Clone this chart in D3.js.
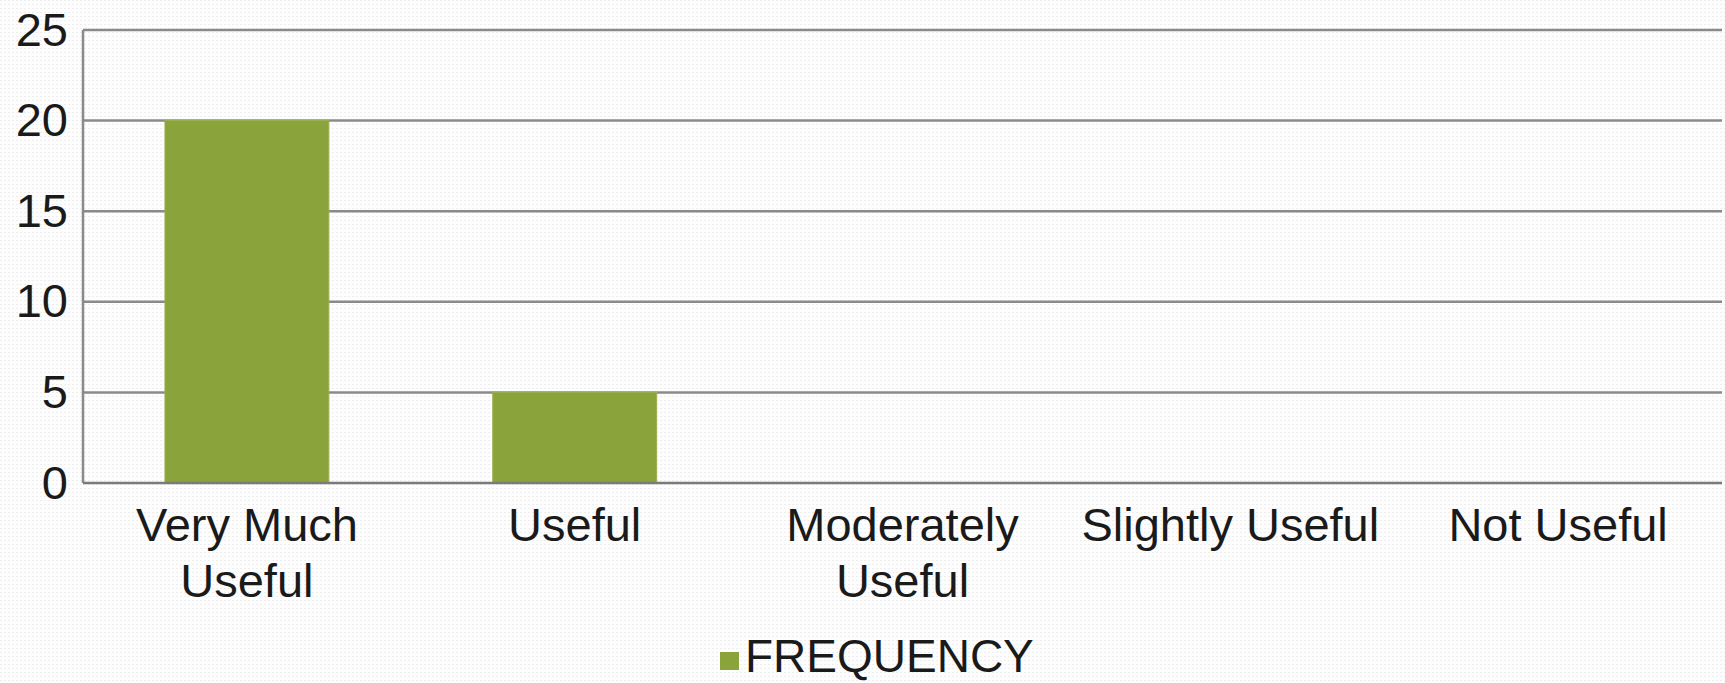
<!DOCTYPE html>
<html>
<head>
<meta charset="utf-8">
<script src="https://cdn.jsdelivr.net/npm/d3@7"></script>
<style>
  body { margin: 0; background: #fff; }
  text { font-family: "Liberation Sans", Arial, sans-serif; fill: #1a1a1a; }
</style>
</head>
<body>
<div class="chart"></div>
<script>
var categories = [["Very Much", "Useful"], ["Useful"], ["Moderately", "Useful"], ["Slightly Useful"], ["Not Useful"]];
var frequency = [20, 5, 0, 0, 0];
var yTicks = [0, 5, 10, 15, 20, 25];
var seriesName = "FREQUENCY";

var svgWidth = 1725;
var svgHeight = 683;

var margin = { top: 30, right: 3, bottom: 200, left: 83 };
var width = svgWidth - margin.left - margin.right;
var height = svgHeight - margin.top - margin.bottom;

var svg = d3.select(".chart")
    .append("svg")
    .attr("width", svgWidth)
    .attr("height", svgHeight);

// faint dotted backdrop
var defs = svg.append("defs");
var pat = defs.append("pattern")
    .attr("id", "dots")
    .attr("width", 4)
    .attr("height", 4)
    .attr("patternUnits", "userSpaceOnUse");
pat.append("rect").attr("width", 4).attr("height", 4).attr("fill", "#fdfdfd");
pat.append("rect").attr("width", 2).attr("height", 1).attr("fill", "#eeeeee");

svg.append("rect")
    .attr("width", svgWidth)
    .attr("height", svgHeight)
    .attr("fill", "url(#dots)");

var chartGroup = svg.append("g")
    .attr("transform", `translate(${margin.left}, ${margin.top})`);

var keys = categories.map(d => d.join(" "));

var xScale = d3.scaleBand()
    .domain(keys)
    .range([0, width])
    .paddingInner(0.5)
    .paddingOuter(0.25);

var yScale = d3.scaleLinear()
    .domain([0, 25])
    .range([height, 0]);

// gridlines
chartGroup.selectAll(".grid")
    .data(yTicks.filter(d => d > 0))
    .enter()
    .append("line")
    .attr("x1", 0)
    .attr("x2", width)
    .attr("y1", d => yScale(d))
    .attr("y2", d => yScale(d))
    .attr("stroke", "#8a8a8a")
    .attr("stroke-width", 2.5);

// bars
chartGroup.selectAll(".bar")
    .data(frequency)
    .enter()
    .append("rect")
    .attr("x", (d, i) => xScale(keys[i]))
    .attr("y", d => yScale(d))
    .attr("width", xScale.bandwidth())
    .attr("height", d => height - yScale(d))
    .attr("fill", "#8aa43b")
    .attr("stroke", "#9ab04e")
    .attr("stroke-width", 1);

// axes lines
chartGroup.append("line")
    .attr("x1", 0).attr("x2", 0)
    .attr("y1", 0).attr("y2", height)
    .attr("stroke", "#8a8a8a")
    .attr("stroke-width", 2.5);

chartGroup.append("line")
    .attr("x1", 0).attr("x2", width)
    .attr("y1", height).attr("y2", height)
    .attr("stroke", "#7a7a7a")
    .attr("stroke-width", 2.5);

// y tick labels
var leftAxis = d3.axisLeft(yScale).tickValues(yTicks).tickSize(0).tickPadding(15);
var yAxis = chartGroup.append("g").call(leftAxis);
yAxis.select(".domain").remove();
yAxis.selectAll("text")
    .attr("font-size", 47)
    .attr("font-family", "Liberation Sans, Arial, sans-serif")
    .attr("fill", "#1a1a1a");

// x labels, wrapped
var xLabels = chartGroup.selectAll(".xlabel")
    .data(categories)
    .enter()
    .append("text")
    .attr("text-anchor", "middle")
    .attr("font-size", 47)
    .attr("transform", (d, i) => `translate(${xScale(keys[i]) + xScale.bandwidth() / 2}, ${height + 58})`);

xLabels.selectAll("tspan")
    .data(d => d)
    .enter()
    .append("tspan")
    .attr("x", 0)
    .attr("dy", (d, i) => i === 0 ? 0 : 56)
    .text(d => d);

// legend
var legend = svg.append("g")
    .attr("transform", "translate(720, 652)");

legend.append("rect")
    .attr("width", 19)
    .attr("height", 18)
    .attr("fill", "#8aa43b");

legend.append("text")
    .attr("x", 25)
    .attr("y", 20)
    .attr("font-size", 46)
    .text(seriesName);
</script>
</body>
</html>
